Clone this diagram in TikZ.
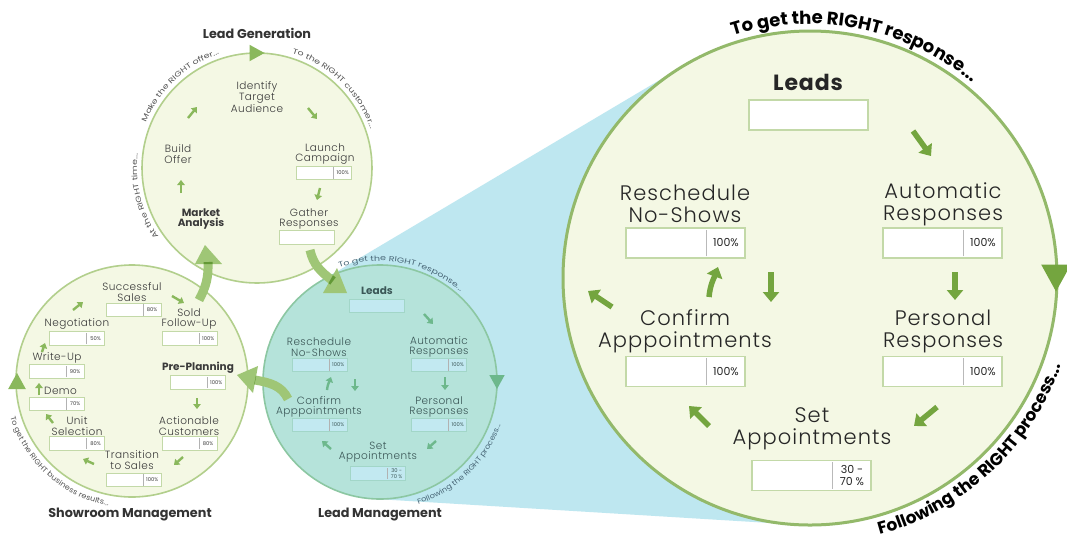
\documentclass[tikz,border=0pt]{standalone}
\usepackage{fontspec}
\setmainfont{Poppins}[UprightFont=* Light, BoldFont=* Bold]
\newfontfamily\popreg{Poppins}
\newfontfamily\popwide{Poppins}[FakeStretch=1.3]
\newfontfamily\popmid{Poppins}[FakeStretch=1.12]
\usetikzlibrary{arrows.meta,calc,decorations.text}

\definecolor{cream}{HTML}{F4F8E4}
\definecolor{ringgreen}{HTML}{B2CF8C}
\definecolor{bigring}{HTML}{93B96A}
\definecolor{tealfill}{HTML}{B5E3DA}
\definecolor{tealring}{HTML}{8CC7A2}
\definecolor{coneblue}{HTML}{BEE7F0}
\definecolor{arrowgreen}{HTML}{8AB85C}
\definecolor{bigarrow}{HTML}{74A53F}
\definecolor{flowgreen}{HTML}{9FC676}
\definecolor{tealarrow}{HTML}{6DB88C}
\definecolor{boxline}{HTML}{C3D9A8}
\definecolor{bluebox}{HTML}{C2E9F1}
\definecolor{blueboxline}{HTML}{A2D6C8}
\definecolor{labelgray}{HTML}{3A3A3A}
\definecolor{tealtext}{HTML}{3B5757}
\definecolor{curvegray}{HTML}{555555}
\definecolor{curveblue}{HTML}{4A6878}

% box with a divider and a percentage on its right part
\newcommand{\pctbox}[4]{%
  \node[#1] (#2) at (#3) {};
  \draw[#1 div] ($(#2.south west)!0.67!(#2.south east)$) -- ($(#2.north west)!0.67!(#2.north east)$);
  \node[#1 pct] (#2-pct) at ($(#2.west)!0.835!(#2.east)$) {#4};
}
% text set along an arc round a circle centre
\newcommand{\curvetext}[7]{% centre, radius, start, end, colour, font, text
  \path[decorate, decoration={text along path, text align=center, text color=#5,
    text={|#6|#7}}] ($(#1)+(#3:#2)$) arc[start angle=#3, end angle=#4, radius=#2];
}
% arrowhead sitting on a ring
\newcommand{\ringtip}[4]{%
  \fill[#4, shift={(#1)}, rotate=#2, scale=#3] (0.5,0) -- (-0.5,0.55) -- (-0.5,-0.55) -- cycle;
}
\newcommand{\widecurve}{\popwide\fontsize{7.3}{8}\selectfont}
\newcommand{\midcurve}{\popmid\fontsize{7.3}{8}\selectfont}
\newcommand{\bigcurve}{\bfseries\fontsize{18}{20}\selectfont}
\newcommand{\bigcurvelow}{\bfseries\fontsize{17}{19}\selectfont}

\begin{document}
\begin{tikzpicture}[x=1pt,y=1pt,
  lbl/.style={align=center, inner sep=0, text=labelgray, font=\fontsize{10.5}{10.5}\selectfont\addfontfeature{LetterSpace=4}},
  lblb/.style={lbl, font=\bfseries\fontsize{10.5}{10.5}\selectfont},
  tlbl/.style={lbl, text=tealtext},
  big/.style={align=center, inner sep=0, text=black!85, font=\fontsize{21}{22}\selectfont\addfontfeature{LetterSpace=5}},
  title/.style={inner sep=0, text=black!80, font=\bfseries\fontsize{12.8}{14}\selectfont},
  sbox/.style={draw=boxline, fill=white, line width=0.8pt, minimum width=55pt, minimum height=13.5pt, inner sep=0},
  sbox div/.style={draw=gray!60, line width=0.5pt, shorten <=1.5pt, shorten >=1.5pt},
  sbox pct/.style={inner sep=0, align=center, text=labelgray, font=\popreg\fontsize{5.2}{5.4}\selectfont},
  tbox/.style={sbox, fill=bluebox, draw=blueboxline},
  tbox div/.style={sbox div},
  tbox pct/.style={sbox pct, text=tealtext},
  bigbox/.style={draw=boxline, fill=white, line width=1.8pt, minimum width=119pt, minimum height=30pt, inner sep=0},
  bigbox div/.style={draw=gray!55, line width=0.9pt, shorten <=2.5pt, shorten >=2.5pt},
  bigbox pct/.style={inner sep=0, align=center, text=black!85, font=\popreg\fontsize{11}{11.5}\selectfont},
  sarr/.style={draw=arrowgreen, line width=2.4pt, -{Triangle[length=5pt,width=7.5pt]}},
  tarr/.style={sarr, draw=tealarrow},
  barr/.style={draw=bigarrow, line width=5.5pt, -{Triangle[length=10pt,width=16pt]}},
  flow/.style={draw=flowgreen, line width=9pt}
]
\useasboundingbox (0,0) rectangle (1067,-542);
\fill[white] (0,0) rectangle (1067,-542);

\coordinate (cgen) at (257,-168);
\coordinate (cshow) at (132,-381);
\coordinate (cmgmt) at (380,-382);
\coordinate (cbig) at (810,-278);

% zoom cone joining the lead management ring to the enlarged ring
\fill[coneblue] (320.3,-281.4) -- (683.9,-65.6) -- (794.9,-524.5) -- (372.9,-498.8) -- cycle;

% rings
\draw[ringgreen, line width=1.6pt, fill=cream] (cgen) circle[radius=115];
\draw[ringgreen, line width=1.6pt, fill=cream] (cshow) circle[radius=116];
\draw[tealring, line width=1.6pt, fill=tealfill] (cmgmt) circle[radius=117];
\draw[bigring, line width=3pt, fill=cream] (cbig) circle[radius=247];

\ringtip{257,-53}{0}{15}{arrowgreen}
\ringtip{17,-381}{90}{16}{arrowgreen}
\ringtip{497,-382}{-90}{14}{tealarrow}
\ringtip{1056,-278}{-90}{27}{bigarrow}

% curved captions
\curvetext{cgen}{120}{178}{88}{curvegray}{\widecurve}{Make the RIGHT offer...}
\curvetext{cgen}{120}{91}{1}{curvegray}{\widecurve}{To the RIGHT customer...}
\curvetext{cgen}{120}{239}{149}{curvegray}{\widecurve}{At the RIGHT time...}
\curvetext{cshow}{127}{170}{286}{curvegray}{\midcurve}{To get the RIGHT business results...}
\curvetext{cmgmt}{121}{124}{34}{curveblue}{\widecurve}{To get the RIGHT response...}
\curvetext{cmgmt}{128}{264}{364}{curveblue}{\midcurve}{Following the RIGHT process...}
\curvetext{cbig}{254}{134}{24}{black}{\bigcurve}{To get the RIGHT response...}
\curvetext{cbig}{266}{258}{368}{black}{\bigcurvelow}{Following the RIGHT process...}

% titles
\node[title] (t-gen) at (257,-33) {Lead Generation};
\node[title] (t-show) at (130,-515) {Showroom Management};
\node[title] (t-mgmt) at (380,-515) {Lead Management};

% ---- Lead Generation ----
\node[lbl] (gen-identify) at (257,-97) {Identify\\Target\\Audience};
\node[lbl] (gen-build) at (178,-154) {Build\\Offer};
\node[lblb] (gen-market) at (201,-219) {Market\\Analysis};
\node[lbl] (gen-launch) at (325,-154) {Launch\\Campaign};
\pctbox{sbox}{gen-launch-box}{324,-173}{100\%}
\node[lbl] (gen-gather) at (309,-219) {Gather\\Responses};
\node[sbox] (gen-gather-box) at (307,-237.5) {};
\draw[sarr] (188,-118) -- (197,-107);
\draw[sarr] (308,-108) -- (317,-119);
\draw[sarr] (320,-188) -- (317,-200);
\draw[sarr] (181,-193) -- (181,-180);

% ---- Showroom Management ----
\node[lbl] (sh-success) at (132,-292) {Successful\\Sales};
\pctbox{sbox}{sh-success-box}{133.5,-310}{80\%}
\node[lbl] (sh-sold) at (189,-319) {Sold\\Follow-Up};
\pctbox{sbox}{sh-sold-box}{189.5,-338.5}{100\%}
\node[lbl] (sh-nego) at (77,-324) {Negotiation};
\pctbox{sbox}{sh-nego-box}{77,-338.5}{50\%}
\node[lbl] (sh-write) at (57,-358) {Write-Up};
\pctbox{sbox}{sh-write-box}{56.5,-371.5}{90\%}
\node[lbl, anchor=west] (sh-demo) at (44,-391) {Demo};
\pctbox{sbox}{sh-demo-box}{56.5,-404}{70\%}
\node[lbl] (sh-unit) at (77,-426) {Unit\\Selection};
\pctbox{sbox}{sh-unit-box}{77,-443.5}{80\%}
\node[lbl] (sh-trans) at (132,-460) {Transition\\to Sales};
\pctbox{sbox}{sh-trans-box}{133.5,-480}{100\%}
\node[lblb] (sh-pre) at (198,-368) {Pre-Planning};
\pctbox{sbox}{sh-pre-box}{197.5,-382.5}{100\%}
\node[lbl] (sh-action) at (189,-426) {Actionable\\Customers};
\pctbox{sbox}{sh-action-box}{189.5,-443.5}{80\%}
\draw[sarr] (73,-310) -- (83,-302);
\draw[sarr] (172,-296) -- (184,-303);
\draw[sarr] (42,-352) -- (45,-343);
\draw[sarr] (39,-395) -- (39,-383);
\draw[sarr] (53,-423) -- (46,-414);
\draw[sarr] (94,-464) -- (83,-459);
\draw[sarr] (183,-457) -- (174,-465);
\draw[sarr] (197,-398) -- (197,-409);

% ---- Lead Management ----
\node[tlbl, font=\bfseries\fontsize{10.5}{10.5}\selectfont] (lm-leads) at (377,-291) {Leads};
\node[tbox] (lm-leads-box) at (376.5,-306) {};
\node[tlbl] (lm-resched) at (319,-347) {Reschedule\\No-Shows};
\pctbox{tbox}{lm-resched-box}{319.5,-365}{100\%}
\node[tlbl] (lm-auto) at (439,-347) {Automatic\\Responses};
\pctbox{tbox}{lm-auto-box}{439,-365}{100\%}
\node[tlbl] (lm-confirm) at (319,-407) {Confirm\\Apppointments};
\pctbox{tbox}{lm-confirm-box}{319.5,-425}{100\%}
\node[tlbl] (lm-personal) at (439,-407) {Personal\\Responses};
\pctbox{tbox}{lm-personal-box}{439,-425}{100\%}
\node[tlbl] (lm-set) at (378,-452) {Set\\Appointments};
\pctbox{tbox}{lm-set-box}{378,-473.5}{30 -\\70 \%}
\draw[tarr] (424,-314) -- (433,-324);
\draw[tarr] (327,-390) to[out=85,in=-110] (331,-377);
\draw[tarr] (355,-379) -- (355,-391);
\draw[tarr] (445,-377) -- (445,-390);
\draw[tarr] (436,-441) -- (427,-449);
\draw[tarr] (331,-449) -- (322,-441);

% ---- enlarged Lead Management ----
\node[big, font=\bfseries\fontsize{22}{22}\selectfont\addfontfeature{LetterSpace=4}] (bg-leads) at (808,-82) {Leads};
\node[bigbox] (bg-leads-box) at (808.5,-115) {};
\node[big] (bg-resched) at (685,-204) {Reschedule\\No-Shows};
\pctbox{bigbox}{bg-resched-box}{685.5,-243}{100\%}
\node[big] (bg-auto) at (943,-204) {Automatic\\Responses};
\pctbox{bigbox}{bg-auto-box}{942.5,-243}{100\%}
\node[big] (bg-confirm) at (685,-331.5) {Confirm\\Apppointments};
\pctbox{bigbox}{bg-confirm-box}{685.5,-371.5}{100\%}
\node[big] (bg-personal) at (943,-331.5) {Personal\\Responses};
\pctbox{bigbox}{bg-personal-box}{942.5,-371.5}{100\%}
\node[big] (bg-set) at (812,-429) {Set\\Appointments};
\pctbox{bigbox}{bg-set-box}{811.5,-475.5}{30 -\\70 \%}
\draw[barr] (913,-131) -- (931,-156);
\draw[barr] (709,-297) to[out=85,in=-110] (718,-267);
\draw[barr] (771,-272) -- (771,-302);
\draw[barr] (955,-272) -- (955,-300);
\draw[barr] (937,-407) -- (914,-426);
\draw[barr] (709,-426) -- (689,-406);
\draw[barr] (612,-307) -- (588,-291);

% ---- flow between the three rings ----
\begin{scope}[blend group=multiply]
  \draw[flow] (310,-250) to[out=-78,in=143] (333,-281);
  \fill[flowgreen] (347,-293) -- (337,-268) -- (323,-293) -- cycle;
  \draw[flow] (199,-300) to[out=62,in=-88] (208,-262);
  \fill[flowgreen] (205,-245) -- (222,-264) -- (195,-264) -- cycle;
  \draw[flow] (288,-399) to[out=115,in=-10] (255,-380);
  \fill[flowgreen] (237,-375) -- (258,-366) -- (253,-393) -- cycle;
\end{scope}
\end{tikzpicture}
\end{document}
